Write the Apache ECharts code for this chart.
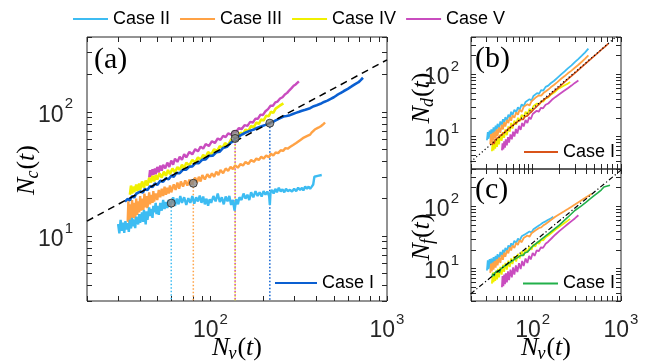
<!DOCTYPE html>
<html><head><meta charset="utf-8">
<script src="https://cdn.jsdelivr.net/npm/echarts@6/dist/echarts.min.js"></script>
<style>html,body{margin:0;padding:0;background:#fff}#c{width:647px;height:362px}</style>
</head><body><div id="c"></div><script>
// ---------------- data (Nv, value) ----------------
// Panel (a): N_c vs N_v
const a_case1 = [[32.8,18.9],[33.5,18.4],[34,19.9],[35,19.4],[36,21],[37,20.4],[38,21.9],[39,21.2],[40,22.8],[41.5,22.4],[42.5,24],[44,23.4],[45.5,25.2],[47,24.8],[48.5,26.5],[50,25.8],[52,27.8],[54,27.4],[56,29.2],[58,28.6],[60,30.6],[62,30],[64,32.2],[67,32.1],[70,34.2],[73,34.2],[76,36.2],[79,36.3],[82,38.5],[86,38.6],[90,41.2],[94,41.3],[98,44.2],[103,44.3],[108,47.2],[113,47.8],[118,51.2],[124,52.3],[130,56.2],[134,57.8],[138,61],[145,63.5],[152,66],[160,68.5],[168,70.5],[176,72],[185,74.5],[195,76.5],[205,78.5],[217,81],[230,84],[245,88],[259,91.5],[270,92.5],[282,94],[293,96],[305,98],[318,100],[330,102],[345,104],[367,107],[385,111],[400,113],[420,116],[440,120],[460,123],[480,127],[500,131],[520,136],[542,141],[570,147],[600,153],[630,160],[660,167],[690,173],[710,180],[731,188]];
const a_case2 = [[30,12.5],[30.5,10.5],[31,13.5],[31.5,11],[32,12.8],[32.5,10.6],[33,13.2],[33.5,11.3],[34,12.7],[34.5,10.8],[35,13.5],[35.5,11.5],[36,14],[36.5,12],[37,13.6],[37.5,11.6],[38,14.3],[39,12.4],[39.5,15],[40,12.8],[41,15.5],[41.5,13],[42,16.2],[43,12.4],[43.5,15.8],[44,13.5],[45,17],[45.5,14.5],[46,16.5],[47,14],[47.5,17.5],[48,15.5],[49,18.5],[49.5,15],[50,17.5],[51,14.8],[52,18.5],[53,16],[54,19.5],[55,16.5],[56,18.8],[57,16.8],[58,19.5],[59,17.5],[60,18.4],[61.5,20.5],[63,17.5],[64.5,20],[66,18],[67.5,21],[69,18.5],[71,20.5],[73,17.8],[75,20.2],[77,18.5],[79,21],[81,18.2],[83,20.5],[85,19],[87,21.2],[89,18.5],[91,20.8],[93,18],[95,20],[97,17.5],[99,19.8],[101,18.5],[104,21],[107,19],[110,22],[113,18.8],[116,20.5],[119,18],[122,20.8],[125,19],[128,21],[131,17.8],[134,19.5],[137,16],[140,19.8],[143,18],[146,20.5],[150,19.5],[154,22],[158,20],[162,21.5],[166,19.5],[170,22.5],[175,20.5],[180,23],[185,21],[190,22.5],[195,20.8],[200,23],[205,21.5],[210,22.8],[215,21],[217,17.8],[219,22.5],[223,23.5],[228,22],[233,24],[238,22.5],[244,24.5],[250,22.8],[256,23.8],[262,22.5],[268,24],[274,23],[282,23.5],[290,22.8],[298,24],[306,23],[314,24.5],[322,23.5],[330,24.5],[336,23.3],[344,25],[352,24],[360,25],[367,24],[375,25],[382,26],[388,30],[395,31],[405,30.5],[415,31],[427,31]];
const a_case3 = [[34,13],[34.3,19],[34.7,12.7],[35,18],[35.5,13.5],[36,19.5],[36.5,14],[37,18.5],[37.5,13.8],[38,20],[38.5,14.8],[39,19],[39.5,15.5],[40,21],[40.5,16],[41,20],[41.7,16.2],[42.3,22],[43,17],[43.5,21],[44,16.8],[45,22.5],[45.5,18],[46,21.5],[47,18.5],[47.5,23],[48,19],[49,22],[50,19.5],[51,23.5],[52,20.5],[53,24],[54,21],[55,25],[56,21.5],[57,24.5],[58,22],[59,25.5],[60,22.5],[62,26],[63.5,23.5],[65,27],[66.5,24],[68,27.5],[70,25],[72,28],[74,25.5],[76,28.5],[78,26],[80,26.6],[82,29.5],[84,27],[86,30],[88,27.5],[90,31],[93,28.5],[96,31.5],[99,29.5],[102,32],[105,30],[108,33],[111,31],[114,34],[118,32],[122,35],[126,33.5],[130,36],[134,34.5],[138,37],[143,35.5],[148,38],[153,37],[158,39.5],[164,38],[170,41],[176,39.5],[182,42],[188,41],[194,43.5],[200,42],[207,44.5],[214,43],[220,46],[227,44.5],[234,47],[242,46.5],[250,49],[258,48.5],[266,51],[274,50.5],[282,52],[294,54],[306,56],[314,57.5],[322,59],[330,61],[338,62],[346,63],[354,64],[367,65.5],[374,68],[380,69],[390,72],[400,74],[408,74.5],[415,75],[422,76.5],[430,78],[438,80],[446,82]];
const a_case4 = [[35,21.5],[35.5,25.5],[36,22],[36.5,25],[37,22.5],[38,26],[38.5,23],[39.5,26.5],[40,23.5],[41,27.5],[42,24.5],[43,28],[44,25.5],[45,29.5],[46,27],[47,30.5],[48,27.5],[49,31],[50,28.5],[51.5,32],[53,29.5],[54.5,33],[56,30.5],[57.5,34],[59,31.5],[61,35],[63,32.5],[65,36],[67,34],[69,37.5],[71,35],[73,39],[76,37],[79,41],[82,39],[85,43],[88,41],[91,45],[94,43],[97,47.5],[101,45],[105,50],[109,48],[113,53],[117,51],[121,56],[126,54],[131,60],[135,58],[138,64],[143,62],[148,68],[153,66],[158,72],[164,70],[170,77],[176,75],[182,82],[188,80],[194,87],[200,85],[207,93],[214,92],[220,100],[227,98],[234,106],[240,103],[247,112],[252,108],[259,117]];
const a_case5 = [[45,29.5],[45.5,34],[46,30],[47,34.5],[47.5,31],[48.5,35],[49,31.5],[50,36],[51,32.5],[52,37],[53,33.5],[54,37.5],[55.5,35],[57,39],[58.5,36],[60,40.5],[61.5,37.5],[63,42],[65,39.5],[67,43.5],[69,41],[71,45.5],[73,43],[76,47.5],[79,45.5],[82,50],[85,48],[88,52.5],[91,50.5],[94,55],[98,53],[102,58],[106,56],[110,61],[114,59.5],[118,64],[122,62.5],[126,67],[131,65.5],[136,70],[140,69],[145,74],[150,72.5],[156,78],[162,77],[168,83],[174,82],[180,88],[186,88],[192,95],[198,94],[205,101],[212,105],[219,112],[226,112],[233,119],[240,121],[248,128],[256,131],[264,138],[272,142],[280,149],[288,155],[296,162],[304,166],[310,172],[317,176]];
const a_fit = [[20,13.2],[1000,262]];
const a_marks = [[60,18.4],[80,26.6],[138,66],[138,61],[217,81]];
// Panel (b): N_d vs N_v
const b_case1 = [[34.5,7.3],[35.5,8.2],[36.5,7.6],[37.5,8.8],[39,8.3],[40.5,9.6],[42,9],[43.5,10.4],[45,9.9],[47,11.4],[49,10.9],[51,12.7],[53,12],[55.5,14],[58,13.4],[61,15.5],[64,15],[67,17.2],[70,16.8],[74,19],[78,18.8],[82,21],[87,21.5],[92,23.5],[97,25],[103,27.5],[110,30],[120,34],[135,39.5],[150,44],[170,52],[200,63],[250,84],[300,105],[350,127],[400,150],[450,174],[500,198],[550,223],[600,250],[660,280],[718,313]];
const b_case2 = [[30.3,8.7],[31,11.8],[31.7,9.2],[32.5,12.5],[33.3,9.8],[34,13],[35,10.5],[36,14],[37,11.5],[38,15],[39,12.5],[40,16],[41.5,13.5],[43,17.5],[44.5,15],[46,19],[47.5,16.5],[49,20.5],[51,18],[53,22.5],[55,20],[57,25],[59,22],[62,27],[65,24.5],[68,29.5],[71,27],[75,33],[79,30.5],[83,36],[87,34],[92,40],[97,38],[102,45],[107,43],[112,50],[118,48.5],[125,56],[132,55],[140,63],[150,66],[160,72],[175,79],[190,88],[210,100],[230,112],[250,125],[275,140],[300,158],[330,178],[360,200],[390,225],[410,242],[427,259]];
const b_case3 = [[33,7.5],[33.7,11],[34.4,8],[35.2,11.5],[36,8.6],[37,12],[38,9.4],[39,13],[40,10.2],[41.5,14],[43,11.5],[44.5,15.5],[46,13],[47.5,17],[49,14.5],[51,18.5],[53,16.5],[55,20.5],[57,18],[59,22],[62,20],[65,24.5],[68,22.5],[71,27],[75,25],[79,30],[83,28],[87,33],[92,31.5],[97,37],[102,35.5],[107,42],[112,41.5],[118,46],[125,45.5],[132,50],[140,53],[150,57],[160,62],[175,68],[190,75],[210,85],[230,94],[250,104],[275,115],[300,128],[330,143],[360,160],[390,178],[410,190],[427,203]];
const b_case4 = [[34.5,5.8],[35.2,8.2],[36,6],[36.8,8.5],[37.6,6.4],[38.5,9],[39.5,6.8],[40.5,9.8],[41.5,7.5],[43,10.8],[44.5,8.5],[46,11.8],[47.5,9.5],[49,13],[51,10.5],[53,14.5],[55,12],[57,16.5],[59,13.5],[62,18],[65,15.5],[68,20],[71,17.5],[75,22.5],[79,20],[83,25],[87,22.5],[92,28],[97,25.5],[102,31],[107,29],[112,34],[118,32.5],[125,37],[132,36.5],[140,41],[150,42.5],[160,47],[175,51],[190,57],[210,62],[230,67],[250,71],[265,75.5]];
const b_case5 = [[44.8,6],[45.5,7.8],[46.5,6.2],[47.5,8.4],[48.5,6.6],[49.5,9],[51,7.2],[52.5,9.8],[54,8],[56,10.8],[58,9],[60,12],[62,10],[64.5,13.2],[67,11.2],[70,14.8],[73,12.8],[76,16.5],[79,14.5],[83,18.5],[87,16.5],[91,20.5],[95,19],[100,23],[105,21.5],[111,26],[117,25],[124,29],[131,28.5],[140,32.5],[150,34],[165,39],[180,43],[200,48],[225,54],[250,60],[275,66],[300,73],[315,75],[329,80]];
const b_fit = [[19.8,3.9],[1000,472]];
// Panel (c): N_f vs N_v
const c_case1 = [[34.5,7.3],[35.5,8.2],[36.5,7.6],[37.5,8.6],[39,8],[40.5,9.3],[42,8.6],[43.5,9.9],[45,9.3],[47,10.7],[49,10.1],[51,11.6],[53,11],[55.5,12.6],[58,12],[61,13.8],[64,13.3],[67,15],[70,14.6],[74,16.4],[78,16.3],[82,18],[87,18.5],[92,20],[100,23],[120,28],[150,36],[200,50],[250,67],[300,86],[350,100],[400,116],[450,133],[500,150],[550,166],[600,185],[640,205],[670,219],[750,219]];
const c_case2 = [[30.3,9.3],[31,13.5],[31.7,9.8],[32.5,14.2],[33.3,10.3],[34,14.5],[35,11],[36,15.2],[37,11.8],[38,16],[39,12.8],[40,17],[41.5,14],[43,18.5],[44.5,15.5],[46,20],[47.5,17],[49,21.5],[51,19],[53,23.5],[55,21],[57,25.5],[59,23],[62,28],[65,25.5],[68,30.5],[71,28],[75,33],[79,31],[83,36],[87,34.5],[92,39.5],[97,38],[102,43],[107,42.5],[112,47],[120,50],[130,54.5],[140,57.5],[150,61],[160,64],[171,68]];
const c_case3 = [[33,8.5],[33.7,12],[34.4,9],[35.2,12.5],[36,9.6],[37,13.2],[38,10.3],[39,14],[40,11.2],[41.5,15],[43,12.3],[44.5,16.5],[46,13.8],[47.5,18],[49,15.5],[51,19.5],[53,17.5],[55,22],[57,19.5],[59,23.5],[62,21.5],[65,26],[68,24],[71,28.5],[75,26.5],[79,31],[83,29.5],[87,34],[92,32.5],[97,37],[102,36],[107,41],[112,40.5],[118,45],[125,46],[132,49.5],[140,52],[150,56],[165,62],[180,68],[200,75],[225,83],[250,91],[275,99],[300,107],[330,117],[360,127],[390,136],[420,146],[446,154],[466,160]];
const c_case4 = [[34.5,5.7],[35.2,8.6],[36,6],[36.8,8.8],[37.6,6.3],[38.5,9.3],[39.5,6.7],[40.5,9.9],[41.5,7.2],[43,10.6],[44.5,8],[46,11.5],[47.5,8.8],[49,12.3],[51,9.6],[53,13.4],[55,10.6],[57,14.5],[59,11.8],[62,15.8],[65,13],[68,17.2],[71,14.5],[75,18.8],[79,16],[83,20.5],[87,18],[92,22.5],[97,20],[102,24.5],[107,22.5],[112,26.5],[118,25],[125,29],[132,28.5],[140,32],[150,34],[165,38],[180,42],[200,47],[225,53],[250,59],[265,63]];
const c_case5 = [[44.8,5],[45.5,7.6],[46.5,5.2],[47.5,8],[48.5,5.6],[49.5,8.4],[51,6],[52.5,9],[54,6.5],[56,9.6],[58,7.2],[60,10.4],[62,8],[64.5,11.2],[67,8.8],[70,12.2],[73,9.8],[76,13.2],[79,11],[83,14.5],[87,12.3],[91,16],[95,14],[100,17.8],[105,16],[111,19.6],[117,19],[124,22],[131,21.5],[140,25],[150,27],[165,31],[180,35],[200,40],[225,46],[250,52],[275,58],[300,64],[315,68],[329,72]];
const c_fit = [[19.8,3.9],[1000,384]];
// axis ranges and ticks
const xRange = [20, 1000];
const yRange = [3, 400];
const xTicks = [20,30,40,50,60,70,80,90,100,200,300,400,500,600,700,800,900,1000];
const yTicks = [3,4,5,6,7,8,9,10,20,30,40,50,60,70,80,90,100,200,300,400];
const xLabelExp = [2, 3];
const yLabelExp = [1, 2];
const legendNames = ['Case II','Case III','Case IV','Case V'];

// ---------------- styling / layout ----------------
const COL = {II:'#3dbcf2', III:'#ffa245', IV:'#f0f000', V:'#c94cbf', Ia:'#0a5fd1', Ib:'#d95319', Ic:'#22b04b'};
const L10 = Math.log10;
const grids = [
  {left:87, top:37, width:300, height:264},
  {left:471, top:37, width:150, height:132},
  {left:471, top:169, width:150, height:132}
];
const SANS = 'Liberation Sans';
const tickRich = {
  m:{fontFamily:SANS, fontSize:23, color:'#262626', lineHeight:30, verticalAlign:'bottom'},
  e:{fontFamily:SANS, fontSize:15, color:'#262626', lineHeight:14, verticalAlign:'top', padding:[0,0,0,1]}
};
const fmt = v => '{m|10}{e|' + Math.round(v) + '}';
function helper(kind, g, pos, showLabels, margin) {
  const isX = kind === 'x';
  const rng = isX ? xRange : yRange;
  return {
    type:'value', gridIndex:g, position:pos, min:L10(rng[0]), max:L10(rng[1]),
    axisLine:{show:false}, splitLine:{show:false},
    axisTick:{show:true, inside:true, length:5, customValues:(isX?xTicks:yTicks).map(L10), lineStyle:{color:'#262626', width:1}},
    axisLabel:{show:showLabels, customValues:isX?xLabelExp:yLabelExp, margin:margin, formatter:fmt, rich:tickRich,
      fontSize:23, fontFamily:SANS, color:'#262626'}
  };
}
const xAxis = [], yAxis = [];
for (let g = 0; g < 3; g++) {
  xAxis.push({type:'log', logBase:10, gridIndex:g, min:xRange[0], max:xRange[1], show:false});
  xAxis.push(helper('x', g, 'bottom', g !== 1, 11));
  xAxis.push(helper('x', g, 'top', false, 8));
  yAxis.push({type:'log', logBase:10, gridIndex:g, min:yRange[0], max:yRange[1], show:false});
  yAxis.push(helper('y', g, 'left', true, g === 0 ? 14 : 12));
  yAxis.push(helper('y', g, 'right', false, 8));
}
function ln(name, data, color, g, width, z, dash) {
  return {type:'line', name:name, data:data, xAxisIndex:g*3, yAxisIndex:g*3, showSymbol:false, symbol:'none',
    lineStyle:{color:color, width:width, type: dash || 'solid'}, itemStyle:{color:color},
    z:z||2, silent:true, animation:false, clip:true};
}
function vline(pt, color, off) {
  return {type:'line', data:[[pt[0],pt[1]],[pt[0],yRange[0]]], xAxisIndex:0, yAxisIndex:0, showSymbol:false, symbol:'none',
    lineStyle:{color:color, width:1.5, type:[1.5,2], dashOffset:off||0}, z:1, silent:true, animation:false};
}
const series = [
  vline(a_marks[0], COL.II), vline(a_marks[1], COL.III), vline(a_marks[2], COL.IV, 0), vline(a_marks[3], COL.V, 1.75), vline(a_marks[4], COL.Ia),
  ln('Case III', a_case3, COL.III, 0, 2.4, 2),
  ln('Case II', a_case2, COL.II, 0, 2.4, 3),
  ln('Case V', a_case5, COL.V, 0, 2.4, 4),
  ln('Case IV', a_case4, COL.IV, 0, 2.6, 5),
  ln('Case I', a_case1, COL.Ia, 0, 2.6, 6),
  ln('fit a', a_fit, '#000', 0, 1.5, 7, [7,5]),
  {type:'scatter', data:a_marks, xAxisIndex:0, yAxisIndex:0, symbol:'circle', symbolSize:8,
    itemStyle:{color:'#8a8a8a', borderColor:'#222', borderWidth:1}, z:10, silent:true, animation:false},
  ln('Case II', b_case2, COL.II, 1, 1.8, 2),
  ln('Case III', b_case3, COL.III, 1, 1.8, 3),
  ln('Case V', b_case5, COL.V, 1, 1.8, 4),
  ln('Case IV', b_case4, COL.IV, 1, 1.8, 5),
  ln('Case I', b_case1, COL.Ib, 1, 1.6, 6),
  ln('fit b', b_fit, '#000', 1, 1.2, 7, [1.2,2.5]),
  ln('Case II', c_case2, COL.II, 2, 1.8, 2),
  ln('Case III', c_case3, COL.III, 2, 1.8, 3),
  ln('Case V', c_case5, COL.V, 2, 1.8, 4),
  ln('Case IV', c_case4, COL.IV, 2, 1.8, 5),
  ln('Case I', c_case1, COL.Ic, 2, 1.6, 6),
  ln('fit c', c_fit, '#000', 2, 1.2, 7, [5,2.5,1.2,2.5])
];
const legTxt = {fontFamily:SANS, fontSize:18, color:'#000'};
function caseILegend(left, top, w, color) {
  return {show:true, left:left, top:top, padding:0, orient:'horizontal', data:['Case I'], icon:'rect',
    itemWidth:w, itemHeight:2, itemStyle:{color:color, borderWidth:0}, textStyle:legTxt, selectedMode:false};
}
const legend = [
  {show:true, left:73, top:10, padding:0, orient:'horizontal', data:legendNames, icon:'rect', itemWidth:35, itemHeight:2,
    itemGap:10, itemStyle:{borderWidth:0}, textStyle:legTxt, selectedMode:false},
  caseILegend(275, 274, 42, COL.Ia),
  caseILegend(524, 143, 34, COL.Ib),
  caseILegend(523, 274.5, 35, COL.Ic)
];
// axis titles built from separate text pieces: N, subscript, (t)
const SERIF = 'Liberation Serif';
const mctx = document.createElement('canvas').getContext('2d');
function tw(font, s) { mctx.font = font; return mctx.measureText(s).width; }
function title(sub, cx, cy, rot) {
  const fI = 'italic 26px "' + SERIF + '"', fR = '26px "' + SERIF + '"', fS = 'italic 18px "' + SERIF + '"';
  const wN = tw(fI, 'N'), wS = tw(fS, sub), wL = tw(fR, '('), wT = tw(fI, 't'), wR = tw(fR, ')');
  const total = wN - 1 + wS + 1 + wL + wT + wR;
  let x = -total / 2;
  const kids = [];
  const mk = (t, size, italic, y) => ({type:'text', x:x, y:y, silent:true,
    style:{text:t, fontFamily:SERIF, fontSize:size, fontStyle:italic?'italic':'normal', fill:'#000', align:'left', verticalAlign:'middle'}});
  kids.push(mk('N', 26, true, 0)); x += wN - 1;
  kids.push(mk(sub, 18, true, 6.5)); x += wS + 1;
  kids.push(mk('(', 26, false, 0)); x += wL;
  kids.push(mk('t', 26, true, 0)); x += wT;
  kids.push(mk(')', 26, false, 0));
  return {type:'group', x:cx, y:cy, rotation:rot||0, silent:true, children:kids};
}
function plabel(t, x, y) {
  return {type:'text', x:x, y:y, silent:true, style:{text:t, fontFamily:SERIF, fontSize:30, fill:'#000', align:'left', verticalAlign:'middle'}};
}
const graphic = [
  plabel('(a)', 94, 60), plabel('(b)', 475, 59), plabel('(c)', 475, 190),
  title('c', 27, 170, Math.PI/2),
  title('d', 422, 98, Math.PI/2),
  title('f', 422, 237, Math.PI/2),
  title('v', 237, 348, 0),
  title('v', 546, 348, 0)
];
const chart = echarts.init(document.getElementById('c'), null, {renderer:'canvas'});
chart.setOption({
  animation:false,
  backgroundColor:'#fff',
  grid: grids.map(g => Object.assign({show:true, borderColor:'#262626', borderWidth:1, backgroundColor:'transparent', containLabel:false, outerBoundsMode:'none'}, g)),
  xAxis: xAxis, yAxis: yAxis, series: series, legend: legend, graphic: graphic
});
</script></body></html>
